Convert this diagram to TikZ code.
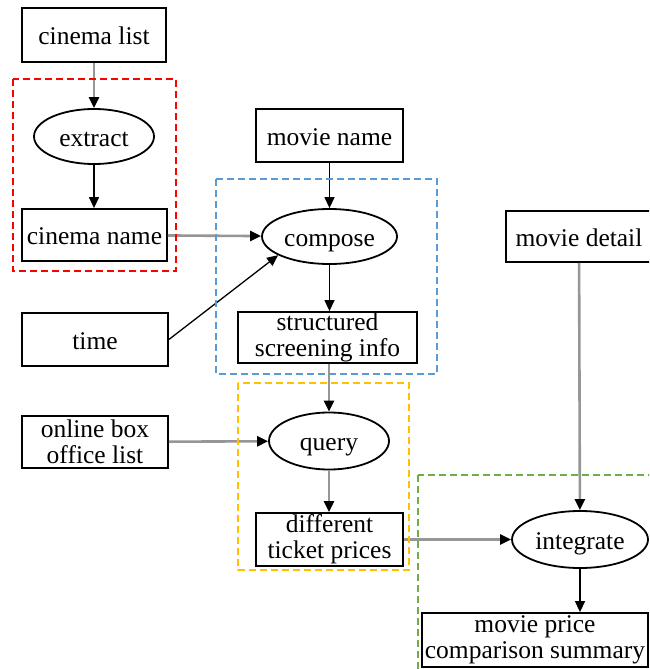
\documentclass[tikz,border=0pt]{standalone}
\usepackage{fontspec}
\setmainfont{Liberation Serif}
\usetikzlibrary{arrows.meta,shapes.geometric}

\definecolor{grpred}{RGB}{255,0,0}
\definecolor{grpblue}{RGB}{91,155,213}
\definecolor{grpyellow}{RGB}{255,192,0}
\definecolor{grpgreen}{RGB}{112,173,71}
\definecolor{flowgray}{RGB}{150,150,150}

\tikzset{
  x=1pt, y=-1pt,
  every node/.style={font=\fontsize{25.5}{26}\selectfont, inner sep=0pt},
  oneline/.style={text height=20.5pt, text depth=1pt},
  twoline/.style={align=center},
  databox/.style={draw=black, line width=1.8pt, rectangle},
  procnode/.style={draw=black, line width=1.8pt, ellipse, oneline},
  flowgrey/.style={draw=flowgray, line width=2.6pt, arrows={-{Triangle[length=11pt,width=10pt,fill=black,color=black]}}},
  flowblack/.style={draw=black, line width=1.3pt, arrows={-{Triangle[length=11pt,width=10pt]}}},
  groupbox/.style={line width=1.5pt, dash pattern=on 7pt off 4pt},
}

\begin{document}
\begin{tikzpicture}
\clip (0,0) rectangle (649,669);
\fill[white] (0,0) rectangle (649,669);

% data items
\node[databox, oneline, minimum width=144pt, minimum height=54pt] (clist) at (94,35) {cinema list};
\node[databox, oneline, minimum width=145pt, minimum height=52pt] (cname) at (94.5,235) {cinema name};
\node[databox, oneline, minimum width=147pt, minimum height=53pt] (mname) at (329.5,135.5) {movie name};
\node[databox, oneline, minimum width=146pt, minimum height=53pt] (time) at (95,339.5) {time};
\node[databox, twoline, minimum width=179pt, minimum height=51pt] (sinfo) at (327.5,337.5) {structured\\screening info};
\node[databox, twoline, minimum width=146pt, minimum height=52pt] (online) at (95,442) {online box\\office list};
\node[databox, twoline, minimum width=147pt, minimum height=53pt] (prices) at (329.5,539.5) {different\\ticket prices};
\node[databox, oneline, minimum width=146pt, minimum height=51pt] (mdetail) at (579,236.5) {movie detail};
\node[databox, twoline, minimum width=226pt, minimum height=54pt] (summary) at (535,640) {movie price\\comparison summary};

% processing steps
\node[procnode, minimum width=120pt, minimum height=55pt] (extract) at (94,136.5) {extract};
\node[procnode, minimum width=135pt, minimum height=55pt] (compose) at (329.5,236.5) {compose};
\node[procnode, minimum width=120pt, minimum height=57pt] (query) at (329,441) {query};
\node[procnode, minimum width=136pt, minimum height=57pt] (integrate) at (580,539.5) {integrate};

% connectors
\draw[flowgrey] (clist) -- (extract);
\draw[flowblack] (extract) -- (extract |- cname.north);
\draw[flowgrey] (cname) -- (compose);
\draw[flowblack] (mname) -- (compose);
\draw[flowblack] (time.east) -- (compose.200);
\draw[flowblack] (compose) -- (compose |- sinfo.north);
\draw[flowgrey] (sinfo.south -| query) -- (query);
\draw[flowgrey] (online) -- (query);
\draw[flowgrey] (query) -- (query |- prices.north);
\draw[flowgrey] (prices) -- (integrate);
\draw[flowgrey] (mdetail) -- (integrate);
\coordinate (sumin) at (integrate |- summary.north);
\draw[flowblack] (integrate) -- (sumin);

% grouping frames
\draw[groupbox, draw=grpred] (13,79) rectangle (176,271);
\draw[groupbox, draw=grpblue] (216,179) rectangle (437,374);
\draw[groupbox, draw=grpyellow] (238,383) rectangle (409,570);
\draw[groupbox, draw=grpgreen] (418,475) rectangle (680,700);
\end{tikzpicture}
\end{document}
